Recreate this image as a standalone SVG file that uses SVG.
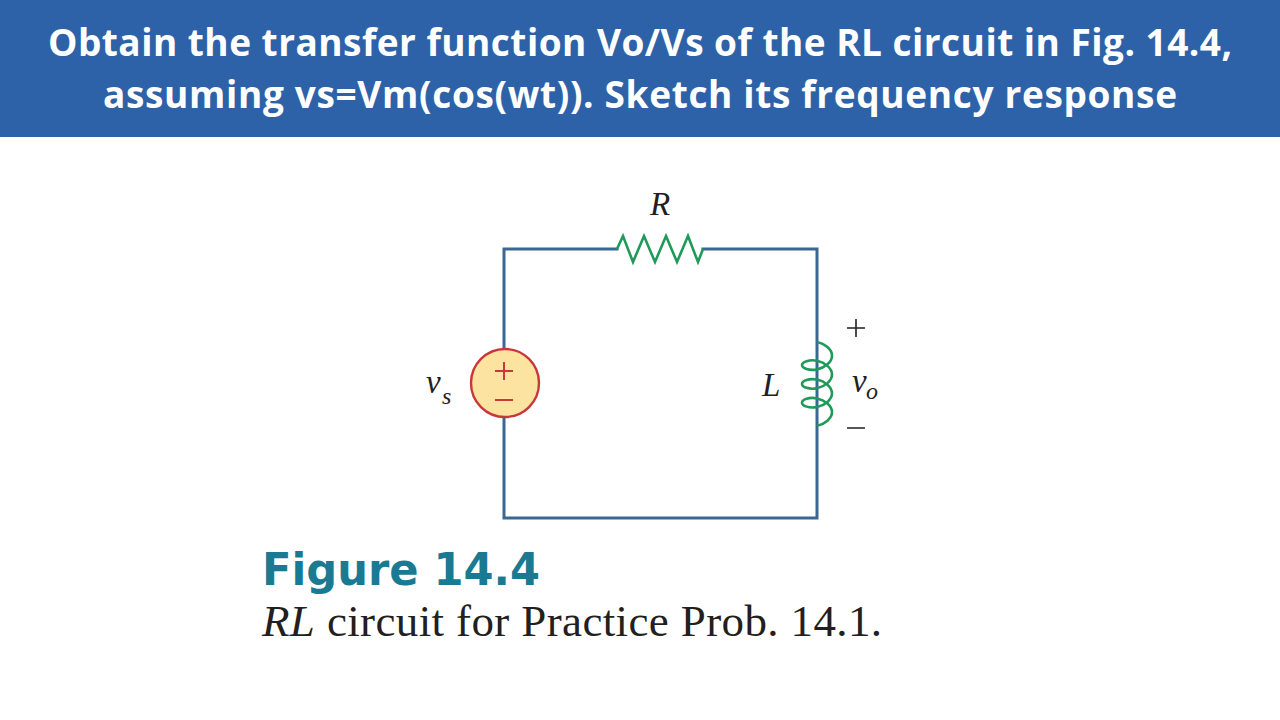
<svg xmlns="http://www.w3.org/2000/svg" width="1280" height="720" viewBox="0 0 1280 720">
<style>
.hdr{font-family:"Open Sans","Liberation Sans",sans-serif;font-weight:700;font-size:37px;fill:#ffffff;text-anchor:middle}
.wire{fill:none;stroke:#3a6893;stroke-width:3;stroke-linecap:square}
.comp{fill:none;stroke:#1f9a5a;stroke-width:2.6;stroke-linejoin:miter}
.lbl{font-family:"Liberation Serif","Times New Roman",serif;font-style:italic;fill:#231f20}
.sign{stroke:#231f20;stroke-width:1.6}
.src{stroke:#c8383a;stroke-width:2}
</style>
<rect id="header" x="0" y="0" width="1280" height="137" fill="#2d62a8"/>
<text class="hdr" x="640" y="56" textLength="1184" lengthAdjust="spacing">Obtain the transfer function Vo/Vs of the RL circuit in Fig. 14.4,</text>
<text class="hdr" x="640" y="108" textLength="1074" lengthAdjust="spacing">assuming vs=Vm(cos(wt)). Sketch its frequency response</text>
<g id="connectors">
<path class="wire" d="M617,249 H504 V518 H817 V249 H703"/>
</g>
<g id="resistor">
<path class="comp" d="M617,249 L623,236 L633,262 L644,236 L655,262 L666,236 L677,262 L688,236 L698,262 L703,249"/>
<text class="lbl" x="660" y="215" font-size="33" text-anchor="middle">R</text>
</g>
<g id="source">
<circle cx="505" cy="383" r="34" fill="#fde3a0" stroke="#c8383a" stroke-width="2.4"/>
<path class="src" d="M495,371 H513 M504,362 V380 M495,400 H513"/>
<text class="lbl" x="426" y="393" font-size="33">v</text>
<text class="lbl" x="442" y="404" font-size="24">s</text>
</g>
<g id="inductor">
<path class="comp" transform="translate(-1,0)" d="M818,342 C825.85,343.57 833,349.42 833,355.7 C833,361.98 825.85,367.83 818,369.4 C810.15,370.97 803,368.25 803,365.1 C803,361.95 810.15,359.23 818,360.8 C825.85,362.37 833,368.22 833,374.5 C833,380.78 825.85,386.63 818,388.2 C810.15,389.77 803,387.05 803,383.9 C803,380.75 810.15,378.03 818,379.6 C825.85,381.17 833,387.02 833,393.3 C833,399.58 825.85,405.43 818,407 C810.15,408.57 803,405.85 803,402.7 C803,399.55 810.15,396.83 818,398.4 C825.85,399.97 833,405.82 833,412.1 C833,418.38 825.85,424.23 818,425.8"/>
<text class="lbl" x="762" y="396" font-size="33">L</text>
<path class="sign" d="M847,328 H865 M856,319 V337 M847,428 H865"/>
<text class="lbl" x="852" y="392" font-size="33">v</text>
<text class="lbl" x="866" y="399" font-size="24">o</text>
</g>
<g id="caption">
<text x="262" y="585" font-family="'DejaVu Sans','Open Sans',sans-serif" font-weight="700" font-size="44" fill="#1a7a93" textLength="278" lengthAdjust="spacingAndGlyphs">Figure 14.4</text>
<text x="262" y="636" font-family="'Liberation Serif','Times New Roman',serif" font-size="45" fill="#231f20" textLength="620" lengthAdjust="spacing"><tspan font-style="italic">RL</tspan> circuit for Practice Prob. 14.1.</text>
</g>
</svg>
